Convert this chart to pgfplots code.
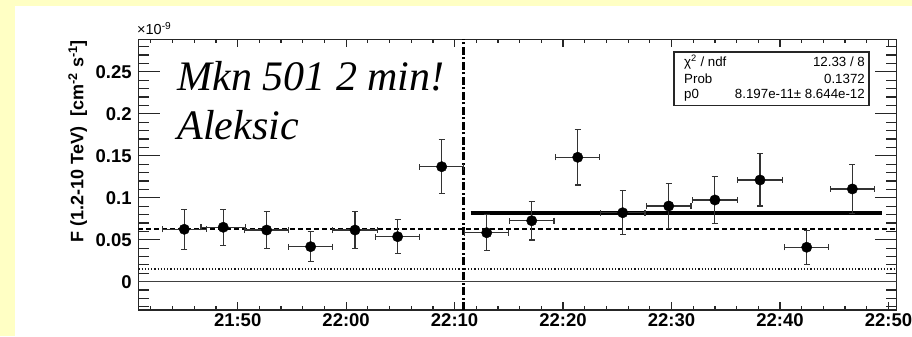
\documentclass[border=0pt]{standalone}
\usepackage{pgfplots}
\usepackage{pgfplotstable}
\pgfplotsset{compat=1.18}
\usepackage{fontspec}
\setmainfont{Liberation Sans}
\newfontfamily\serifit{Liberation Serif}
\definecolor{bgyellow}{RGB}{255,255,196}
\newcommand\ticklab{\fontsize{18.5bp}{21bp}\selectfont\bfseries}
\newcommand\ylab{\fontsize{18bp}{21bp}\selectfont\bfseries}
\newcommand\statfont{\fontsize{13.3bp}{15bp}\selectfont}

% time in minutes after 21:00, flux in 1e-9 cm^-2 s^-1
\pgfplotstableread{
x y ex ey
45.08 0.0624 2.05 0.0240
48.67 0.0648 2.05 0.0215
52.67 0.0615 2.05 0.0220
56.73 0.0417 2.05 0.0180
60.82 0.0615 2.05 0.0220
64.75 0.0536 2.05 0.0200
68.81 0.1369 2.05 0.0320
72.96 0.0583 2.05 0.0215
77.11 0.0726 2.05 0.0230
81.35 0.1481 2.05 0.0330
85.50 0.0821 2.05 0.0260
89.74 0.0901 2.05 0.0265
94.00 0.0973 2.05 0.0280
98.16 0.1211 2.05 0.0310
102.46 0.0410 2.05 0.0200
106.67 0.1104 2.05 0.0290
}\fluxdata

\begin{document}
\begin{tikzpicture}[x=1bp,y=1bp]
\fill[bgyellow] (0,0) rectangle (912,336);
\fill[white] (15,0) rectangle (912,330);

% axis carrying the y ticks
\begin{axis}[
  at={(138.3bp,26bp)}, anchor=south west, scale only axis,
  width=758.4bp, height=270.7bp,
  xmin=40.84, xmax=110.76, ymin=-0.0337, ymax=0.2886,
  axis line style={draw=none},
  xtick=\empty,
  ytick={0,0.05,0.1,0.15,0.2,0.25},
  yticklabels={0,0.05,0.1,0.15,0.2,0.25},
  minor ytick={-0.03,-0.02,...,0.281},
  scaled y ticks=false,
  major tick length=22bp, minor tick length=11bp,
  every tick/.style={line width=1.2bp, black!85},
  yticklabel style={font=\ticklab, anchor=east, inner sep=0pt, xshift=-6.5bp},
]
\end{axis}

% main axis: frame, x ticks and data
\begin{axis}[
  at={(138.3bp,26bp)}, anchor=south west, scale only axis,
  width=758.4bp, height=270.7bp,
  xmin=40.84, xmax=110.76, ymin=-0.0337, ymax=0.2886,
  axis line style={line width=1.5bp, black!85},
  xtick={50,60,70,80,90,100,110},
  xticklabels={21:50,22:00,22:10,22:20,22:30,22:40,22:50},
  minor xtick={42,44,...,110},
  ytick=\empty,
  major tick length=8bp, minor tick length=4bp,
  every tick/.style={line width=1.2bp, black!85},
  xticklabel style={font=\ticklab, anchor=base, yshift=-16.9bp},
]
\addplot[black!75, line width=1.3bp] coordinates {(40.84,0) (110.76,0)};
\addplot[black!90, line width=1.5bp, dash pattern=on 1.3bp off 1.9bp] coordinates {(40.84,0.0151) (110.76,0.0151)};
\addplot[black, line width=2.2bp, dash pattern=on 4.5bp off 3.5bp] coordinates {(40.84,0.0624) (110.76,0.0624)};
\addplot[black, line width=3.5bp] coordinates {(71.48,0.08197) (109.37,0.08197)};
\addplot[black, line width=3bp, dash pattern=on 8bp off 2.5bp on 2bp off 2.5bp] coordinates {(70.8,-0.0337) (70.8,0.2886)};
\addplot[only marks, mark=*, mark size=5.2bp, black,
  error bars/.cd, x dir=both, x explicit, y dir=both, y explicit,
  error bar style={line width=1.1bp, black!80},
  error mark options={rotate=90, mark size=3bp, line width=1.1bp, black!80}]
  table[x=x, y=y, x error=ex, y error=ey] {\fluxdata};
\end{axis}

% exponent label
\node[anchor=base west, inner sep=0pt, font=\fontsize{14.5bp}{16bp}\selectfont] at (137,301.5) {×10\textsuperscript{-9}};
% y axis title
\node[rotate=90, anchor=base east, inner sep=0pt, font=\ylab] at (83.3,296) {F (1.2-10 TeV)\ \ [cm\textsuperscript{-2} s\textsuperscript{-1}]};
% annotation
\node[anchor=base west, inner sep=0pt, font=\serifit\itshape\fontsize{42bp}{48bp}\selectfont] at (177.3,245.3) {Mkn 501 2 min!};
\node[anchor=base west, inner sep=0pt, font=\serifit\itshape\fontsize{42bp}{48bp}\selectfont] at (177.3,196.7) {Aleksic};
% stats box
\draw[line width=1.5bp, black!85, fill=white] (674,230.7) rectangle (869,284);
\node[anchor=base west, inner sep=0pt, font=\statfont] at (684,269.7) {χ\textsuperscript{2} / ndf};
\node[anchor=base east, inner sep=0pt, font=\statfont] at (865,269.7) {12.33 / 8};
\node[anchor=base west, inner sep=0pt, font=\statfont] at (684,253) {Prob};
\node[anchor=base east, inner sep=0pt, font=\statfont] at (865,253) {0.1372};
\node[anchor=base west, inner sep=0pt, font=\statfont] at (684,238) {p0};
\node[anchor=base east, inner sep=0pt, font=\statfont] at (865,238) {8.197e-11± 8.644e-12};

\pgfresetboundingbox
\useasboundingbox (0,0) rectangle (912,336);
\end{tikzpicture}
\end{document}
